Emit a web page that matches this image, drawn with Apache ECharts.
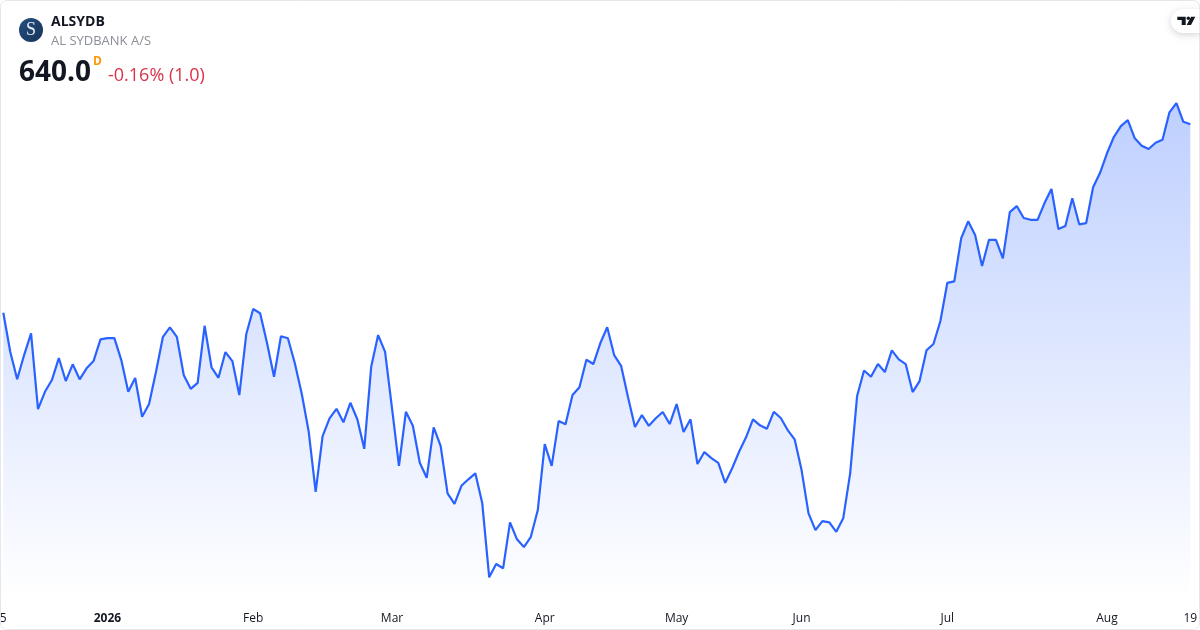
<!DOCTYPE html>
<html>
<head>
<meta charset="utf-8">
<style>html,body{margin:0;padding:0;background:#fff}#c{width:1200px;height:630px}</style>
<script src="https://cdn.jsdelivr.net/npm/echarts@6/dist/echarts.min.js"></script>
</head>
<body>
<div id="c"></div>
<script>
const symbol = 'ALSYDB';
const companyName = 'AL SYDBANK A/S';
const lastPrice = '640.0';
const changeText = '-0.16% (1.0)';
const tickIndexes = [0, 15, 36, 56, 78, 97, 115, 136, 159, 171];
const tickLabels = ['5', '2026', 'Feb', 'Mar', 'Apr', 'May', 'Jun', 'Jul', 'Aug', '19'];
const prices = [
564.6,549.0,538.0,547.7,556.4,526.1,533.0,537.7,546.5,537.3,544.0,538.0,542.4,545.3,554.0,554.5,554.5,545.7,533.0,538.5,
523.0,528.1,541.0,555.0,558.8,555.0,539.6,534.2,536.6,559.4,542.8,538.6,548.9,545.3,531.7,556.0,566.1,564.4,552.4,539.0,
555.2,554.4,544.4,532.1,517.0,493.0,515.3,522.4,526.2,520.8,528.6,522.0,510.2,543.0,555.7,549.0,526.4,503.4,525.0,519.4,
504.6,498.6,518.8,511.4,492.4,488.2,495.4,498.0,500.4,488.4,458.8,464.1,462.4,480.8,474.0,470.9,475.0,485.7,512.1,503.4,
521.3,520.0,531.7,534.8,545.8,544.1,552.4,558.8,547.7,543.4,530.8,518.9,523.7,519.4,522.4,524.9,520.1,528.1,516.9,522.0,
504.1,508.9,506.5,504.6,496.6,502.4,509.0,514.8,522.0,519.6,518.2,525.0,522.5,517.7,514.0,501.7,484.4,477.7,481.3,480.8,
477.0,482.4,500.4,531.3,541.5,539.0,544.1,540.9,549.6,546.0,544.1,532.9,537.3,549.6,552.1,561.3,576.6,577.2,594.5,601.2,
595.7,583.3,593.8,593.8,586.4,604.9,607.3,602.5,601.8,601.8,608.5,614.1,598.1,599.3,610.4,600.0,600.5,614.8,620.6,628.4,
635.0,639.3,641.7,634.4,631.4,630.1,632.6,633.8,644.8,648.5,641.0,640.0
];
const categories = prices.map((_, i) => {
  const k = tickIndexes.indexOf(i);
  return k >= 0 ? tickLabels[k] : '';
});
const FONT = '"Open Sans","Noto Sans",sans-serif';
const chart = echarts.init(document.getElementById('c'), null, {renderer: 'canvas'});
chart.setOption({
  animation: false,
  backgroundColor: '#ffffff',
  grid: {left: 3.3, width: 1187, top: 89.3, height: 510, outerBoundsMode: 'none', containLabel: false},
  xAxis: {
    type: 'category',
    data: categories,
    boundaryGap: false,
    axisLine: {show: false},
    axisTick: {show: false},
    splitLine: {show: false},
    axisLabel: {
      interval: 0,
      hideOverlap: false,
      margin: 13,
      fontFamily: FONT,
      fontSize: 12,
      color: '#131722',
      formatter: v => v === '2026' ? '{b|2026}' : v,
      rich: {b: {fontWeight: 700, fontFamily: FONT, fontSize: 12, color: '#131722'}}
    }
  },
  yAxis: {type: 'value', min: 450, max: 654, show: false, splitLine: {show: false}},
  series: [{
    type: 'line',
    data: prices,
    symbol: 'none',
    smooth: false,
    lineStyle: {color: '#2962ff', width: 2.2},
    areaStyle: {
      origin: 'start',
      opacity: 1,
      color: {type: 'linear', x: 0, y: 0, x2: 0, y2: 1, colorStops: [
        {offset: 0, color: 'rgba(41,98,255,0.3)'},
        {offset: 1, color: 'rgba(41,98,255,0)'}
      ]}
    }
  }],
  graphic: [
    {type: 'rect', z: 100, shape: {x: 0.5, y: 0.5, width: 1199, height: 629, r: 6}, style: {fill: 'none', stroke: '#e6e7ea', lineWidth: 1}},
    {type: 'circle', z: 101, shape: {cx: 31, cy: 30, r: 12}, style: {fill: {type: 'linear', x: 0, y: 0, x2: 1, y2: 1, colorStops: [{offset: 0, color: '#24507f'}, {offset: 1, color: '#173359'}]}}},
    {type: 'text', z: 102, style: {x: 31, y: 30, text: 'S', align: 'center', verticalAlign: 'middle', font: '18px "Liberation Serif",serif', fill: '#e8edf5'}},
    {type: 'text', z: 102, style: {x: 51, y: 22, text: symbol, verticalAlign: 'middle', font: '700 14px ' + FONT, fill: '#131722'}},
    {type: 'text', z: 102, style: {x: 51, y: 41, text: companyName, verticalAlign: 'middle', font: '13px ' + FONT, fill: '#8a8e97'}},
    {type: 'text', z: 102, style: {x: 19, y: 73, text: lastPrice, verticalAlign: 'middle', font: '700 28px ' + FONT, fill: '#131722'}},
    {type: 'text', z: 102, style: {x: 93, y: 62, text: 'D', verticalAlign: 'middle', font: '700 12px ' + FONT, fill: '#ff9800'}},
    {type: 'text', z: 102, style: {x: 108, y: 76, text: changeText, verticalAlign: 'middle', font: '18px ' + FONT, fill: '#d9324a'}},
    {type: 'rect', z: 103, shape: {x: 1171, y: 9, width: 28.5, height: 24, r: [12, 0, 0, 12]}, style: {fill: '#ffffff', shadowBlur: 7, shadowColor: 'rgba(0,0,0,0.16)', shadowOffsetY: 2}},
    {type: 'polygon', z: 104, shape: {points: [[1177.3,16.7],[1185.7,16.7],[1185.7,25],[1181.7,25],[1181.7,20],[1177.3,20]]}, style: {fill: '#131722'}},
    {type: 'circle', z: 104, shape: {cx: 1188.3, cy: 18.3, r: 1.7}, style: {fill: '#131722'}},
    {type: 'polygon', z: 104, shape: {points: [[1191,16.7],[1195.3,16.7],[1191,25],[1186.7,25]]}, style: {fill: '#131722'}}
  ]
});
</script>
</body>
</html>
